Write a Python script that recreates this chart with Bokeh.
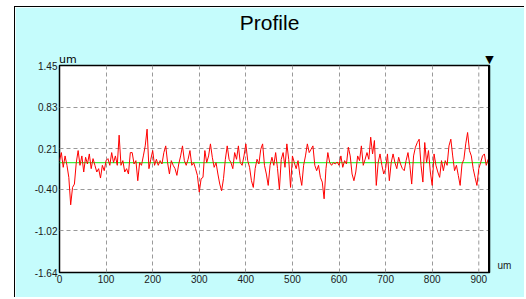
from bokeh.plotting import figure
from bokeh.models import (FixedTicker, Range1d, NumeralTickFormatter, Spacer, LinearAxis, Span)
from bokeh.layouts import row, column
from bokeh.embed import file_html
from bokeh.resources import INLINE

# ---- data ----
TITLE = "Profile"
X_UNIT = "um"
Y_UNIT = "um"
CURSOR_MARK = "\u25BC"
X_STEP_UM = 4.0          # sampling step of the profile along x
X_END = 923
Y_MIN, Y_MAX = -1.64, 1.45
X_TICKS = [0, 100, 200, 300, 400, 500, 600, 700, 800, 900]
Y_TICKS = [-1.64, -1.02, -0.40, 0.21, 0.83, 1.45]
MEAN_LINE = 0.0

PROFILE_UM = [
    0.03, 0.15, -0.07, 0.10, -0.04, -0.22, -0.63, -0.37, -0.32, 0.00,
    0.18, -0.04, 0.10, -0.14, 0.08, -0.02, 0.13, -0.09, 0.06, -0.04,
    -0.14, -0.09, -0.23, -0.04, -0.12, 0.03, 0.06, -0.04, 0.15, 0.00,
    0.10, -0.04, 0.41, -0.04, 0.03, -0.14, -0.09, -0.17, 0.15,
    0.15, -0.02, 0.03, -0.27, 0.00, -0.04, 0.10, 0.25, 0.50, -0.09,
    0.05, 0.18, -0.04, 0.05, -0.04, 0.03, -0.02, 0.15, 0.25, 0.00,
    -0.17, 0.03, -0.04, -0.09, -0.19, -0.02, 0.10, 0.25, 0.03, -0.04,
    0.05, 0.18, -0.04, 0.00, -0.09, -0.19, -0.44, -0.24,
    -0.22, 0.18, 0.00, 0.10, 0.28, 0.08, -0.07, 0.00, -0.17, -0.32,
    -0.42, -0.24, 0.05, 0.25, 0.05, 0.00, -0.09, 0.15, 0.05, 0.25,
    0.00, -0.04, 0.10, 0.28, 0.03, -0.07, -0.27, -0.37, -0.09, 0.05,
    -0.02, 0.20, 0.28, -0.04, -0.17, -0.34, -0.04, 0.08, -0.04,
    0.15, -0.09, -0.40, 0.05, 0.15, -0.07, 0.28, 0.05, -0.37, 0.10,
    0.00, -0.09, 0.03, -0.19, -0.34, -0.04, 0.10, 0.28, 0.15, 0.20,
    0.25, -0.04, -0.12, -0.04, -0.22, -0.29, -0.54, -0.09, 0.15, 0.00,
    -0.04, 0.00, -0.02, 0.01, -0.04, 0.10, -0.07, 0.03, -0.02,
    0.23, 0.10, -0.17, -0.27, -0.14, 0.10, 0.03, 0.25, -0.04, 0.05,
    0.15, 0.05, 0.38, 0.13, 0.33, -0.34, 0.00, 0.13, -0.04, -0.17,
    -0.09, 0.13, -0.27, 0.00, 0.13, 0.00, -0.09, 0.08, -0.02, -0.09,
    -0.12, 0.03, 0.15, -0.04, -0.32, 0.10, 0.23, 0.30,
    0.35, -0.04, -0.29, 0.30, 0.00, 0.18, -0.14, -0.34, 0.13, -0.04,
    -0.14, -0.22, 0.03, -0.12, 0.03, -0.04, 0.25, 0.35, 0.10, -0.12,
    -0.04, -0.19, -0.34, -0.02, 0.05, 0.28, 0.45, 0.18, 0.10, -0.09,
    -0.22, -0.34, -0.09, 0.00, 0.10, 0.13, -0.04, 0.05,
]
POSITION_UM = [i * X_STEP_UM for i in range(len(PROFILE_UM))]

# ---- styles ----
CYAN = "#C5FCFC"
FONT = "Liberation Sans"
LABEL_COLOR = "#1a1a1a"
GRID_COLOR = "#9a9a9a"
GRID_DASH = "4 3"

p = figure(
    width=510, height=291, title=None,
    x_range=Range1d(0, X_END), y_range=Range1d(Y_MIN, Y_MAX),
    output_backend="svg", toolbar_location=None,
    min_border_left=44, min_border_right=36, min_border_top=57, min_border_bottom=26,
)
p.styles = {"border-left": "1px solid black", "border-top": "1px solid black"}
p.border_fill_color = CYAN
p.background_fill_color = "white"
p.outline_line_color = "black"
p.outline_line_width = 1.5


def style_axis(ax, size="10px", font=FONT, standoff=2):
    ax.axis_line_color = None
    ax.major_tick_out = 0
    ax.major_tick_in = 0
    ax.minor_tick_out = 0
    ax.minor_tick_in = 0
    ax.major_label_text_font = font
    ax.major_label_text_font_size = size
    ax.major_label_text_color = LABEL_COLOR
    ax.major_label_standoff = standoff


style_axis(p.xaxis[0])
style_axis(p.yaxis[0])
p.xaxis.ticker = FixedTicker(ticks=X_TICKS)
p.yaxis.ticker = FixedTicker(ticks=Y_TICKS)
p.yaxis.formatter = NumeralTickFormatter(format="0.00")

# unit label above the plot (left) and the cursor mark (right end)
UM_TOP_AT = 18
top_axis = LinearAxis(ticker=FixedTicker(ticks=[UM_TOP_AT, X_END]),
                      major_label_overrides={UM_TOP_AT: Y_UNIT, X_END: CURSOR_MARK})
style_axis(top_axis, size="11px", font="DejaVu Sans", standoff=0)
top_axis.major_label_text_color = "black"
p.add_layout(top_axis, "above")

# chart title, centred over the panel
TITLE_AT = 451
title_axis = LinearAxis(ticker=FixedTicker(ticks=[TITLE_AT]),
                        major_label_overrides={TITLE_AT: TITLE})
style_axis(title_axis, size="21px", font=FONT, standoff=16)
title_axis.major_label_text_color = "black"
p.add_layout(title_axis, "above")

# unit label to the right of the x axis
p.extra_y_ranges = {"unit": Range1d(-1, 30)}
right_axis = LinearAxis(y_range_name="unit", ticker=FixedTicker(ticks=[0]),
                        major_label_overrides={0: X_UNIT})
style_axis(right_axis, standoff=8)
p.add_layout(right_axis, "right")

# grid: the last vertical grid line is drawn as its own span (it rendered solid otherwise)
p.xgrid.ticker = FixedTicker(ticks=X_TICKS[:-1])
p.ygrid.ticker = FixedTicker(ticks=Y_TICKS)
for g in (p.xgrid[0], p.ygrid[0]):
    g.grid_line_color = GRID_COLOR
    g.grid_line_dash = GRID_DASH
    g.grid_line_width = 1
p.add_layout(Span(location=X_TICKS[-1], dimension="height", line_color=GRID_COLOR,
                  line_dash=GRID_DASH, line_width=1, level="underlay"))

p.line(x=[0, X_END], y=[MEAN_LINE, MEAN_LINE], line_color="#3CF03C", line_width=1.2)
p.line(x=POSITION_UM, y=PROFILE_UM, line_color="#FF0000", line_width=1)

# cursor line on the right edge of the profile
p.segment(x0=[X_END], y0=[Y_MIN], x1=[X_END], y1=[Y_MAX], line_color="black", line_width=3)

layout = column(Spacer(width=10, height=6), row(Spacer(width=14, height=10), p))
open("out.html", "w").write(file_html(layout, INLINE))
